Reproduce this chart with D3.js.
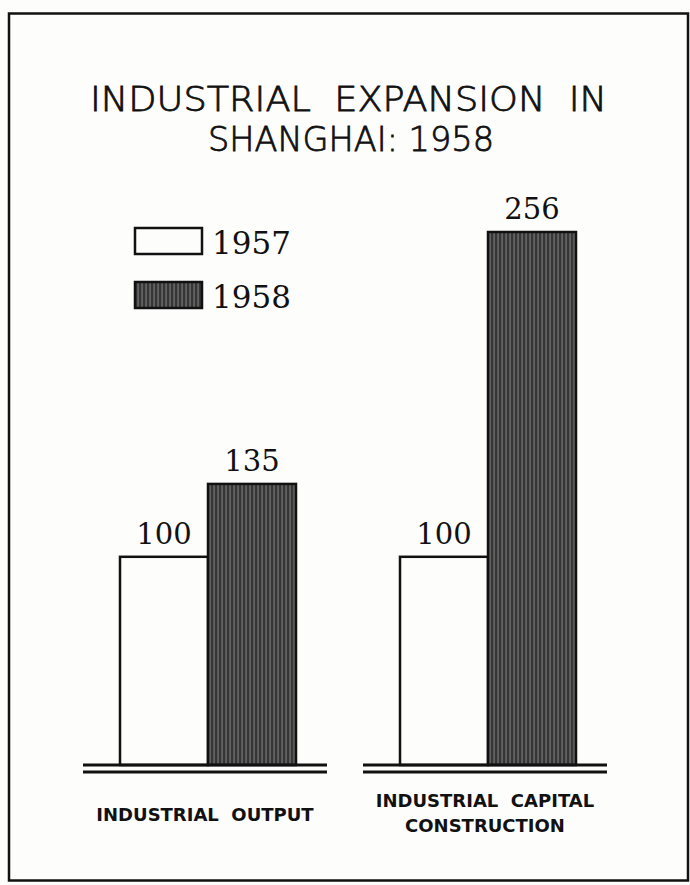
<!DOCTYPE html>
<html><head><meta charset="utf-8">
<script src="https://cdn.jsdelivr.net/npm/d3@7/dist/d3.min.js"></script>
<style>body{margin:0;background:#fdfdfc;}svg{display:block;}</style>
</head><body>
<script>
const categories = ["INDUSTRIAL OUTPUT", "INDUSTRIAL CAPITAL CONSTRUCTION"];
const categoryLines = [["INDUSTRIAL  OUTPUT"], ["INDUSTRIAL  CAPITAL", "CONSTRUCTION"]];
const years = ["1957", "1958"];
const values1957 = [100, 100];
const values1958 = [135, 256];
const titleLines = ["INDUSTRIAL  EXPANSION  IN", "SHANGHAI: 1958"];

const W = 690, H = 885;
const svg = d3.select("body").append("svg").attr("width", W).attr("height", H);

const defs = svg.append("defs");
const pat = defs.append("pattern").attr("id", "stripes").attr("patternUnits", "userSpaceOnUse")
  .attr("width", 4).attr("height", 10);
pat.append("rect").attr("width", 4).attr("height", 10).attr("fill", "#363636");
pat.append("rect").attr("x", 2.6).attr("width", 0.9).attr("height", 10).attr("fill", "#8e8e8e");

// frame
svg.append("rect").attr("x", 9).attr("y", 13.5).attr("width", 679).attr("height", 867)
  .attr("fill", "#fdfdfc").attr("stroke", "#111").attr("stroke-width", 2.5);

// title
svg.selectAll("text.title").data(titleLines).join("text").attr("class", "title")
  .attr("x", (d, i) => i === 0 ? 90 : 208)
  .attr("y", (d, i) => i === 0 ? 111 : 151)
  .attr("textLength", (d, i) => i === 0 ? 517 : 286)
  .attr("lengthAdjust", "spacingAndGlyphs")
  .attr("font-family", "'DejaVu Sans', 'Liberation Sans', sans-serif")
  .attr("font-weight", 200)
  .attr("font-size", 34)
  .attr("fill", "#111")
  .attr("stroke", "#111").attr("stroke-width", 0.8)
  .style("white-space", "pre")
  .text(d => d);

// scales
const y = d3.scaleLinear().domain([0, 256]).range([765, 232]);
const groupX = d3.scaleBand().domain(categories).range([83, 607]).paddingInner(0.1286);
const sub = d3.scaleBand().domain(years).range([37, 37 + 176]);

const groups = svg.selectAll("g.grp").data(categories).join("g").attr("class", "grp")
  .attr("transform", d => `translate(${groupX(d)},0)`);

const rows = categories.map((c, i) => [
  {cat: c, year: "1957", v: values1957[i]},
  {cat: c, year: "1958", v: values1958[i]}
]);

groups.each(function(c, i) {
  const g = d3.select(this);
  g.selectAll("rect.bar").data(rows[i]).join("rect").attr("class", "bar")
    .attr("x", d => sub(d.year))
    .attr("y", d => y(d.v))
    .attr("width", sub.bandwidth())
    .attr("height", d => y(0) - y(d.v))
    .attr("fill", d => d.year === "1957" ? "#fdfdfc" : "url(#stripes)")
    .attr("stroke", "#111").attr("stroke-width", 2.5);
  g.selectAll("text.val").data(rows[i]).join("text").attr("class", "val")
    .attr("x", d => sub(d.year) + sub.bandwidth() / 2)
    .attr("y", d => y(d.v) - 13)
    .attr("text-anchor", "middle")
    .attr("font-family", "'DejaVu Serif', 'Liberation Serif', serif")
    .attr("font-size", 29)
    .attr("fill", "#111")
    .text(d => d.v);
  // double baseline
  [0, 7].forEach(off => {
    g.append("line").attr("x1", 0).attr("x2", groupX.bandwidth())
      .attr("y1", y(0) + off).attr("y2", y(0) + off)
      .attr("stroke", "#111").attr("stroke-width", 3);
  });
  const lines = categoryLines[i];
  g.selectAll("text.cat").data(lines).join("text").attr("class", "cat")
    .attr("x", groupX.bandwidth() / 2)
    .attr("y", (d, j) => (lines.length === 1 ? 821 : 807) + j * 25)
    .attr("text-anchor", "middle")
    .attr("font-family", "'DejaVu Sans', sans-serif")
    .attr("font-weight", "bold")
    .attr("font-size", 18)
    .attr("fill", "#111")
    .style("white-space", "pre")
    .text(d => d);
});

// legend
const leg = svg.selectAll("g.leg").data(years).join("g").attr("class", "leg")
  .attr("transform", (d, i) => `translate(135,${228 + i * 54})`);
leg.append("rect").attr("width", 67).attr("height", 26)
  .attr("fill", d => d === "1957" ? "#fdfdfc" : "url(#stripes)")
  .attr("stroke", "#111").attr("stroke-width", 2.5);
leg.append("text").attr("x", 77).attr("y", 26)
  .attr("font-family", "'DejaVu Serif', 'Liberation Serif', serif")
  .attr("font-size", 31).attr("fill", "#111")
  .text(d => d);
</script>
</body></html>
